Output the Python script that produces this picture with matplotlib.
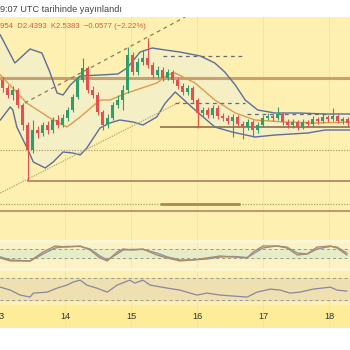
import numpy as np
import matplotlib.pyplot as plt
from matplotlib.patches import Rectangle

plt.rcParams['font.family'] = ['Liberation Sans', 'DejaVu Sans']

# 1.8h candles starting 13th
opens0 = 2.680
closes = [2.648, 2.620, 2.640, 2.580, 2.500, 2.400, 2.480, 2.468, 2.500, 2.480,
          2.520, 2.500, 2.528, 2.560, 2.612, 2.680, 2.728, 2.640, 2.620, 2.552,
          2.500, 2.528, 2.580, 2.600, 2.640, 2.780, 2.712, 2.752, 2.768, 2.740,
          2.700, 2.720, 2.688, 2.712, 2.680, 2.656, 2.632, 2.648, 2.600, 2.548,
          2.560, 2.540, 2.568, 2.536, 2.528, 2.516, 2.532, 2.504, 2.492, 2.512,
          2.480, 2.500, 2.528, 2.536, 2.528, 2.544, 2.512, 2.500, 2.512, 2.492,
          2.512, 2.504, 2.524, 2.516, 2.532, 2.524, 2.536, 2.516, 2.524, 2.508]
highs = [2.692, 2.660, 2.656, 2.648, 2.588, 2.512, 2.520, 2.496, 2.512, 2.516,
         2.532, 2.540, 2.544, 2.572, 2.624, 2.696, 2.768, 2.736, 2.656, 2.632,
         2.560, 2.544, 2.592, 2.620, 2.660, 2.812, 2.792, 2.768, 2.800, 2.848,
         2.752, 2.736, 2.732, 2.724, 2.720, 2.692, 2.668, 2.660, 2.656, 2.608,
         2.572, 2.572, 2.580, 2.580, 2.548, 2.540, 2.544, 2.540, 2.516, 2.524,
         2.520, 2.512, 2.540, 2.548, 2.544, 2.572, 2.552, 2.524, 2.524, 2.520,
         2.524, 2.520, 2.536, 2.532, 2.544, 2.540, 2.568, 2.544, 2.532, 2.532]
lows = [2.632, 2.608, 2.600, 2.568, 2.480, 2.280, 2.388, 2.448, 2.456, 2.464,
        2.468, 2.488, 2.492, 2.516, 2.552, 2.604, 2.672, 2.628, 2.608, 2.540,
        2.480, 2.488, 2.520, 2.568, 2.560, 2.628, 2.700, 2.700, 2.740, 2.728,
        2.688, 2.688, 2.676, 2.680, 2.668, 2.644, 2.620, 2.620, 2.588, 2.488,
        2.536, 2.528, 2.528, 2.524, 2.516, 2.504, 2.452, 2.492, 2.444, 2.480,
        2.452, 2.468, 2.492, 2.520, 2.516, 2.520, 2.500, 2.488, 2.488, 2.480,
        2.484, 2.492, 2.496, 2.504, 2.508, 2.512, 2.516, 2.508, 2.504, 2.496]

# bollinger bands and middle average
bb_up_t = [13.02, 13.24, 13.47, 13.65, 13.77, 13.88, 13.97, 14.08, 14.23, 14.53,
           14.80, 14.94, 15.14, 15.32, 15.52, 15.74, 16.05, 16.27, 16.42, 16.58,
           16.73, 16.92, 17.18, 17.56, 17.94, 18.32]
bb_up = [2.860, 2.748, 2.804, 2.788, 2.712, 2.628, 2.620, 2.660, 2.696, 2.700,
         2.704, 2.728, 2.792, 2.808, 2.800, 2.792, 2.776, 2.748, 2.712, 2.660,
         2.600, 2.560, 2.548, 2.548, 2.544, 2.544]
bb_lo_t = [13.02, 13.17, 13.21, 13.27, 13.44, 13.52, 13.70, 13.82, 13.97, 14.12,
           14.23, 14.33, 14.53, 14.68, 14.83, 15.03, 15.18, 15.39, 15.52, 15.67,
           15.97, 16.27, 16.53, 16.88, 17.18, 17.68, 17.94, 18.32]
bb_lo = [2.520, 2.572, 2.560, 2.492, 2.400, 2.352, 2.328, 2.352, 2.392, 2.388,
         2.380, 2.408, 2.488, 2.508, 2.520, 2.512, 2.500, 2.532, 2.588, 2.632,
         2.560, 2.492, 2.472, 2.452, 2.460, 2.468, 2.480, 2.480]
sma_t = [13.02, 13.42, 13.77, 14.03, 14.23, 14.53, 14.68, 14.94, 15.39, 15.55,
         15.67, 15.97, 16.27, 16.58, 16.88, 17.33, 17.79, 18.32]
sma = [2.700, 2.588, 2.528, 2.492, 2.532, 2.600, 2.600, 2.628, 2.668, 2.700,
       2.708, 2.668, 2.600, 2.548, 2.520, 2.512, 2.508, 2.512]

# trend lines (start, end)
chan_top = ([13.39, 15.82], [2.588, 2.932])
chan_bot = ([13.02, 15.74], [2.228, 2.592])

# stochastic
st_t = [13.02, 13.17, 13.47, 13.67, 13.85, 14.03, 14.23, 14.38, 14.53, 14.64,
        14.79, 14.88, 15.03, 15.18, 15.39, 15.55, 15.74, 15.94, 16.15, 16.35,
        16.55, 16.76, 16.85, 17.00, 17.21, 17.36, 17.52, 17.67, 17.82, 18.02,
        18.12, 18.27]
st_k = [20, 0, 0, 60, 100, 93, 100, 73, 20, 0, 60, 80, 73, 80, 40, 20, 0, 7,
        20, 33, 27, 20, 60, 100, 100, 87, 40, 47, 93, 100, 87, 40]
st_d = [27, 7, 0, 47, 87, 97, 97, 80, 33, 7, 47, 73, 77, 77, 53, 27, 7, 7,
        13, 27, 30, 23, 47, 87, 100, 93, 53, 47, 80, 97, 93, 53]

# rsi
rsi_t = [13.02, 13.17, 13.32, 13.47, 13.52, 13.73, 13.88, 14.03, 14.12, 14.23,
         14.33, 14.48, 14.64, 14.79, 14.98, 15.06, 15.18, 15.29, 15.55, 15.74,
         16.00, 16.15, 16.35, 16.55, 16.76, 16.91, 17.11, 17.26, 17.41, 17.56,
         17.76, 18.02, 18.12, 18.27]
rsi = [53.6, 48.2, 39.1, 35.5, 42.7, 44.5, 51.8, 57.3, 62.7, 66.4,
       57.3, 51.8, 44.5, 57.3, 66.4, 60.9, 66.4, 57.3, 51.8, 48.2,
       39.1, 42.7, 39.1, 37.3, 35.5, 44.5, 50.0, 48.2, 42.7, 44.5,
       50.0, 53.6, 48.2, 46.4]

days = [13, 14, 15, 16, 17, 18]

X0, X1 = 13.015, 18.318
BG = '#fdf0b0'

fig = plt.figure(figsize=(3.5, 3.5), dpi=100)
fig.patch.set_facecolor('white')
fig.patches.append(Rectangle((0, 1 - 328 / 350), 1, 311 / 350, transform=fig.transFigure,
                             facecolor='#fcf5d2', edgecolor='none', zorder=-10))

def panel(top, bottom, color):
    a = fig.add_axes([0, 1 - bottom / 350, 1, (bottom - top) / 350])
    a.set_facecolor(color)
    a.set_xlim(X0, X1)
    a.set_xticks([])
    a.set_yticks([])
    for s in a.spines.values():
        s.set_visible(False)
    for d in days[1:]:
        a.axvline(d, color='#f3e59e', lw=0.6, zorder=0)
    return a

ax = panel(17, 240, BG)
ax.set_ylim(2.04, 2.932)

# levels
ax.axhline(2.688, color='#c9a070', lw=2.2, zorder=1)
ax.axhline(2.400, color='#b79a6a', lw=0.9, ls=(0, (1, 1.2)), zorder=1)
ax.axhline(2.184, color='#b79a6a', lw=0.9, ls=(0, (1, 1.2)), zorder=1)
ax.axhline(2.156, color='#b89068', lw=1.3, zorder=1)
ax.hlines(2.492, 15.44, X1, color='#8d7048', lw=1.2, zorder=1)
ax.hlines(2.276, 13.42, X1, color='#b08a66', lw=1.3, zorder=1)
ax.hlines(2.184, 15.44, 16.65, color='#a88a55', lw=2.0, zorder=1)
ax.hlines(2.776, 15.48, 16.73, color='#6b6b6b', lw=0.9, ls=(0, (3, 3)), zorder=3)
ax.hlines(2.588, 15.67, 16.73, color='#6b6b6b', lw=0.9, ls=(0, (3, 3)), zorder=3)
ax.hlines(2.544, 16.76, 18.02, color='#6b6b6b', lw=0.9, ls=(0, (3, 3)), zorder=3)

# bands
ax.fill(np.concatenate([bb_up_t, bb_lo_t[::-1]]), np.concatenate([bb_up, bb_lo[::-1]]),
        facecolor='#f5efc6', edgecolor='none', zorder=0.5)
ax.plot(bb_up_t, bb_up, color='#5d6f98', lw=1.0, zorder=2)
ax.plot(bb_lo_t, bb_lo, color='#5d6f98', lw=1.0, zorder=2)
ax.plot(sma_t, sma, color='#e39a45', lw=1.0, zorder=2)

ax.plot(*chan_top, color='#8c7a5a', lw=0.9, ls=(0, (3, 3)), zorder=2)
ax.plot(*chan_bot, color='#b8a27a', lw=0.9, ls=(0, (1, 1)), zorder=2)

# candles
n = len(closes)
t = X0 + (2.5 + 5 * np.arange(n)) / 66
c = np.array(closes)
o = np.concatenate([[opens0], c[:-1]])
col = np.where(c >= o, '#2f9e6a', '#e2514c')
ax.vlines(t, lows, highs, colors=col, lw=0.8, zorder=4)
body = np.maximum(np.abs(c - o), 0.004)
ax.bar(t, body, bottom=np.minimum(o, c), width=2.8 / 66, color=col, zorder=5)

# stochastic panel
ax2 = panel(243, 268, '#fbf3c6')
ax2.set_ylim(-47, 120)
ax2.axhspan(20, 80, color='#e6ecc6', zorder=0.5)
ax2.axhline(80, color='#9a9a8a', lw=0.7, ls=(0, (3, 3)))
ax2.axhline(20, color='#9a9a8a', lw=0.7, ls=(0, (3, 3)))
ax2.plot(st_t, st_d, color='#9090a0', lw=1.0)
ax2.plot(st_t, st_k, color='#ab8c68', lw=1.0)

# rsi panel
ax3 = panel(271, 305, '#fcf0b4')
ax3.set_ylim(21, 83)
ax3.axhspan(30, 70, color='#eee0b0', zorder=0.5)
ax3.axhline(70, color='#9a9a8a', lw=0.7, ls=(0, (3, 3)))
ax3.axhline(30, color='#9a9a8a', lw=0.7, ls=(0, (3, 3)))
ax3.plot(rsi_t, rsi, color='#8a86a0', lw=0.9)

# time strip
ax4 = panel(305, 328, '#fdec98')
for d in days:
    ax4.text(d, 0.5, str(d), transform=ax4.get_xaxis_transform(),
             ha='center', va='center', fontsize=6.6, color='#333333')

fig.text(0.0, 1 - 9 / 350, '9:07 UTC tarihinde yayınlandı', fontsize=6.6,
         color='#444444', ha='left', va='center')
fig.text(0.0, 1 - 27 / 350, '954  D2.4393  K2.5383  −0.0577 (−2.22%)',
         fontsize=5.6, color='#d2603a', ha='left', va='center')

fig.savefig('out.png', dpi=100)
